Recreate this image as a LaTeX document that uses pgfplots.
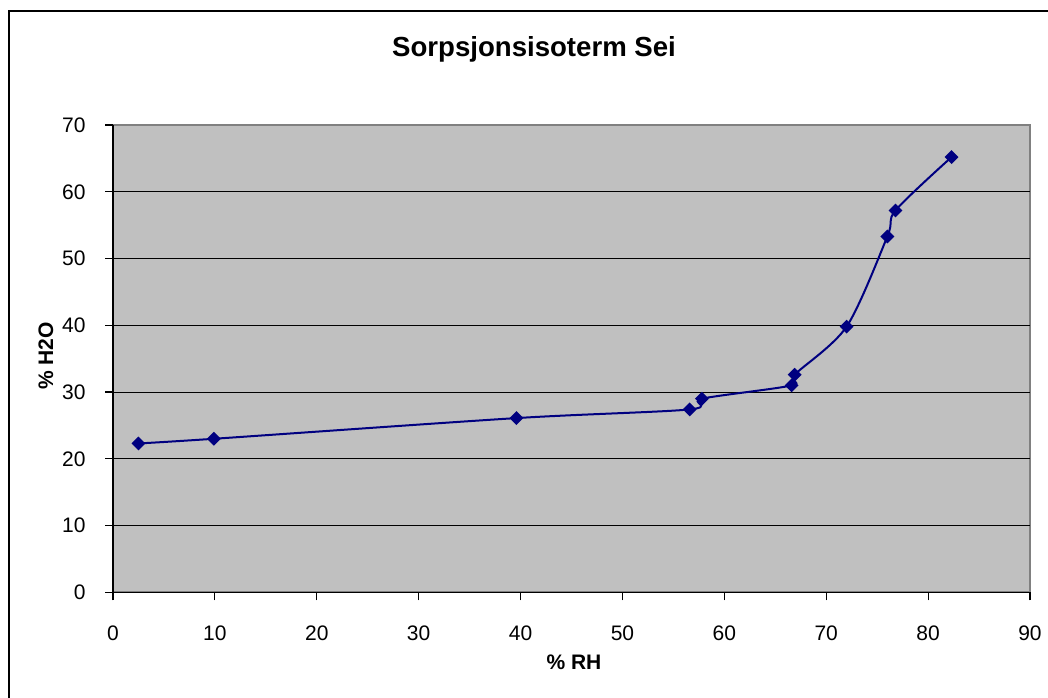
\documentclass[border=0pt]{standalone}
\usepackage{fontspec}
\setmainfont{Liberation Sans}
\usepackage{pgfplots}
\pgfplotsset{compat=1.18}
\definecolor{plotgray}{HTML}{C0C0C0}
\definecolor{framegray}{HTML}{808080}
\definecolor{navyline}{HTML}{000080}
\begin{document}
\begin{tikzpicture}
\useasboundingbox (0pt,0pt) rectangle (524pt,-348.5pt);
\draw[line width=1pt] (4.5pt,-360pt) -- (4.5pt,-5.5pt) -- (535pt,-5.5pt);
\node[font=\fontsize{13.8}{16}\selectfont\bfseries, anchor=base, inner sep=0pt] at (267pt,-28pt) {Sorpsjonsisoterm Sei};
\node[font=\fontsize{10.5}{12}\selectfont\bfseries, anchor=base, inner sep=0pt] at (287pt,-334.5pt) {\% RH};
\node[font=\fontsize{10.5}{12}\selectfont\bfseries, anchor=base, inner sep=0pt, rotate=90] at (26.5pt,-178pt) {\% H2O};
\begin{axis}[
  at={(56.5pt,-296.15pt)}, anchor=south west,
  width=458.5pt, height=233.65pt, scale only axis,
  xmin=0, xmax=90, ymin=0, ymax=70,
  xtick={0,10,...,90}, ytick={0,10,...,60},
  extra y ticks={70}, extra y tick style={grid=none},
  axis x line*=bottom, axis y line*=left,
  axis line style={black, line width=0.75pt, -},
  axis background/.style={fill=plotgray, draw=framegray, line width=1pt},
  tick align=outside, major tick length=4pt,
  tick style={black, line width=0.6pt},
  ymajorgrids, grid style={black, line width=0.5pt},
  /pgf/number format/assume math mode=true,
  tick label style={font=\fontsize{10.5}{12}\selectfont, inner sep=0pt},
  xticklabel style={anchor=base, yshift=-19.85pt},
  yticklabel style={anchor=east, xshift=-9.5pt},
  clip=false,
]
\addplot[navyline, line width=1pt, smooth, tension=0.5, mark=square*, mark size=1.95pt,
  mark options={fill=navyline, draw=navyline, rotate=45, solid}]
  coordinates {
  (2.5,22.3) (9.9,23.0) (39.6,26.1) (56.6,27.4) (57.8,29.0) (66.6,31.0)
  (66.9,32.6) (72.0,39.8) (76.0,53.3) (76.8,57.2) (82.3,65.2)
  };
\end{axis}
\end{tikzpicture}
\end{document}
